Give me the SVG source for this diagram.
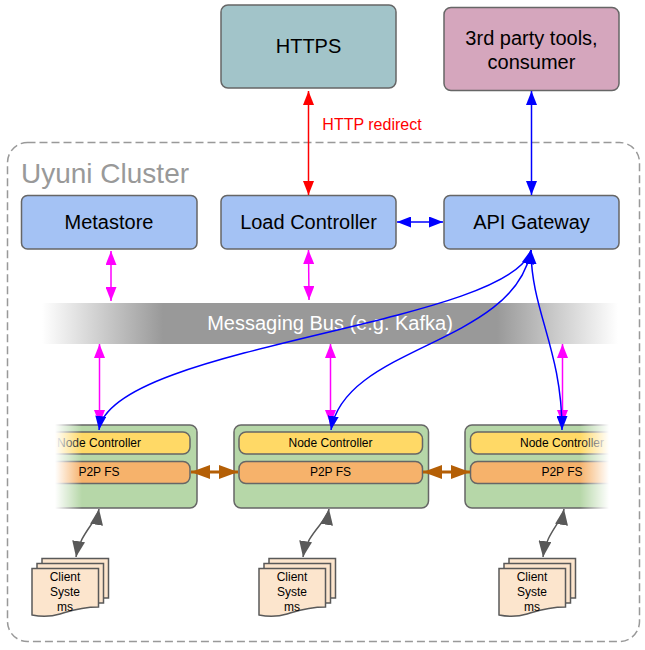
<svg xmlns="http://www.w3.org/2000/svg" width="645" height="650" viewBox="0 0 645 650">
<style>
text{font-family:"Liberation Sans",Arial,sans-serif;text-anchor:middle;fill:#000}
.box{stroke:#666;stroke-width:1.5}
.big{font-size:20px}
.small{font-size:12px}
.blue{fill:#a4c2f4}
.green{fill:#b6d7a8}
.yellow{fill:#ffd966}
.orange{fill:#f6b26b}
.doc{fill:#fce5cd;stroke:#595959;stroke-width:1.5}
.c{fill:none}
.mag{stroke:#f0f;stroke-width:1.5;marker-start:url(#hm);marker-end:url(#hm)}
.blu{stroke:#00f;stroke-width:1.5;marker-start:url(#hb);marker-end:url(#hb)}
.red{stroke:#f00;stroke-width:1.5;marker-start:url(#hr);marker-end:url(#hr)}
.gry{stroke:#595959;stroke-width:1.5;marker-start:url(#hg);marker-end:url(#hg)}
.brn{stroke:#b45f06;stroke-width:3;marker-start:url(#hn);marker-end:url(#hn)}
</style>
<defs>
<marker id="hm" markerUnits="userSpaceOnUse" markerWidth="14" markerHeight="11" viewBox="0 0 14 11" refX="14" refY="5.500" orient="auto-start-reverse"><path d="M0 0L14 5.500L0 11Z" fill="#f0f"/></marker>
<marker id="hb" markerUnits="userSpaceOnUse" markerWidth="14" markerHeight="11" viewBox="0 0 14 11" refX="14" refY="5.500" orient="auto-start-reverse"><path d="M0 0L14 5.500L0 11Z" fill="#00f"/></marker>
<marker id="hr" markerUnits="userSpaceOnUse" markerWidth="14" markerHeight="11" viewBox="0 0 14 11" refX="14" refY="5.500" orient="auto-start-reverse"><path d="M0 0L14 5.500L0 11Z" fill="#f00"/></marker>
<marker id="hg" markerUnits="userSpaceOnUse" markerWidth="16" markerHeight="13" viewBox="0 0 16 13" refX="16" refY="6.500" orient="auto-start-reverse"><path d="M0 0L16 6.500L0 13Z" fill="#595959"/></marker>
<marker id="hn" markerUnits="userSpaceOnUse" markerWidth="19" markerHeight="14" viewBox="0 0 19 14" refX="19" refY="7" orient="auto-start-reverse"><path d="M0 0L19 7L0 14Z" fill="#b45f06"/></marker>
<linearGradient id="bus" gradientUnits="userSpaceOnUse" x1="42" x2="618" y1="0" y2="0">
<stop offset="0" stop-color="#999" stop-opacity="0"/><stop offset="0.21" stop-color="#999"/><stop offset="0.79" stop-color="#999"/><stop offset="1" stop-color="#999" stop-opacity="0"/>
</linearGradient>
<linearGradient id="fl" gradientUnits="userSpaceOnUse" x1="55" x2="82" y1="0" y2="0"><stop offset="0" stop-color="#fff"/><stop offset="1" stop-color="#fff" stop-opacity="0"/></linearGradient>
<linearGradient id="fr" gradientUnits="userSpaceOnUse" x1="580" x2="609" y1="0" y2="0"><stop offset="0" stop-color="#fff" stop-opacity="0"/><stop offset="1" stop-color="#fff"/></linearGradient>
<g id="stack">
<path class="doc" d="M42 558.500H108.500V598H42Z"/>
<path class="doc" d="M37 563.500H103.500V603H37Z"/>
<path class="doc" d="M32 568.500H98.500V607C80 607 70 611 60 614C50 617 42 617 32 615Z"/>
</g>
</defs>

<g id="cluster">
<rect x="7.500" y="142.500" width="632" height="499" rx="20" fill="none" stroke="#999" stroke-width="1.500" stroke-dasharray="8 4"/>
<text x="105" y="183" font-size="28" style="fill:#999">Uyuni Cluster</text>
</g>

<g id="https"><rect class="box" x="221" y="5" width="175" height="83" rx="7" fill="#a2c4c9"/><text class="big" x="308.500" y="53">HTTPS</text></g>
<g id="third-party"><rect class="box" x="444" y="7.500" width="175" height="83" rx="7" fill="#d5a6bd"/><text class="big" x="531.500" y="45">3rd party tools,</text><text class="big" x="531.500" y="69">consumer</text></g>
<g id="metastore"><rect class="box blue" x="21.500" y="195.500" width="175.500" height="53.500" rx="6"/><text class="big" x="109" y="229">Metastore</text></g>
<g id="load-controller"><rect class="box blue" x="221" y="195.500" width="175" height="53.500" rx="6"/><text class="big" x="308.500" y="229">Load Controller</text></g>
<g id="api-gateway"><rect class="box blue" x="444" y="195.500" width="175" height="53.500" rx="6"/><text class="big" x="531.500" y="229">API Gateway</text></g>

<g id="messaging-bus"><rect x="42" y="303" width="576" height="41" fill="url(#bus)"/><text class="big" x="330" y="330" style="fill:#fff">Messaging Bus (e.g. Kafka)</text></g>

<g id="node-left">
<rect class="box green" x="30" y="425" width="167" height="83" rx="7"/>
<rect class="box yellow" x="35" y="432" width="155" height="22" rx="7"/>
<rect class="box orange" x="35" y="461.500" width="155" height="22" rx="7"/>
<text class="small" x="99" y="447">Node Controller</text>
<text class="small" x="99" y="476">P2P FS</text>
<rect x="25" y="420" width="30" height="92" fill="#fff"/>
<rect x="55" y="420" width="27" height="92" fill="url(#fl)"/>
</g>
<g id="node-middle">
<rect class="box green" x="234" y="425" width="194.500" height="83" rx="7"/>
<rect class="box yellow" x="239" y="432" width="183.500" height="22" rx="7"/>
<rect class="box orange" x="239" y="461.500" width="183.500" height="22" rx="7"/>
<text class="small" x="330.500" y="447">Node Controller</text>
<text class="small" x="330.500" y="476">P2P FS</text>
</g>
<g id="node-right">
<rect class="box green" x="465" y="425" width="160" height="83" rx="7"/>
<rect class="box yellow" x="470.500" y="432" width="150" height="22" rx="7"/>
<rect class="box orange" x="470.500" y="461.500" width="150" height="22" rx="7"/>
<text class="small" x="562" y="447">Node Controller</text>
<text class="small" x="562" y="476">P2P FS</text>
<rect x="580" y="420" width="29" height="92" fill="url(#fr)"/>
<rect x="609" y="420" width="25" height="92" fill="#fff"/>
</g>

<g id="clients-left"><use href="#stack"/><text class="small" x="65" y="581">Client</text><text class="small" x="65" y="596">Syste</text><text class="small" x="65" y="611">ms</text></g>
<g id="clients-middle"><use href="#stack" x="227"/><text class="small" x="292" y="581">Client</text><text class="small" x="292" y="596">Syste</text><text class="small" x="292" y="611">ms</text></g>
<g id="clients-right"><use href="#stack" x="467"/><text class="small" x="532" y="581">Client</text><text class="small" x="532" y="596">Syste</text><text class="small" x="532" y="611">ms</text></g>

<g id="connectors" class="c">
<path class="red" d="M308.500 91V195"/>
<path class="blu" d="M531.500 91V195"/>
<path class="blu" d="M397 222H443"/>
<path class="mag" d="M111 251V301"/>
<path class="mag" d="M308.500 250L309 300"/>
<path class="mag" d="M99.500 344V424"/>
<path class="mag" d="M330.500 344V424"/>
<path class="mag" d="M562.500 344V424"/>
<path class="blu" d="M531 250C510 325 110 345 99 430"/>
<path class="blu" d="M531 250C515 345 345 345 331 430"/>
<path class="blu" d="M531 250C531 310 562 350 562 430"/>
<path class="brn" d="M191 472H238"/>
<path class="brn" d="M423 472H470"/>
<path class="gry" d="M99 509C97 522 80 533 76 557"/>
<path class="gry" d="M329 509C327 522 307 533 303 557"/>
<path class="gry" d="M564 509C562 522 546 533 543 557"/>
</g>
<text x="372" y="130" font-size="16" style="fill:#f00">HTTP redirect</text>
</svg>
